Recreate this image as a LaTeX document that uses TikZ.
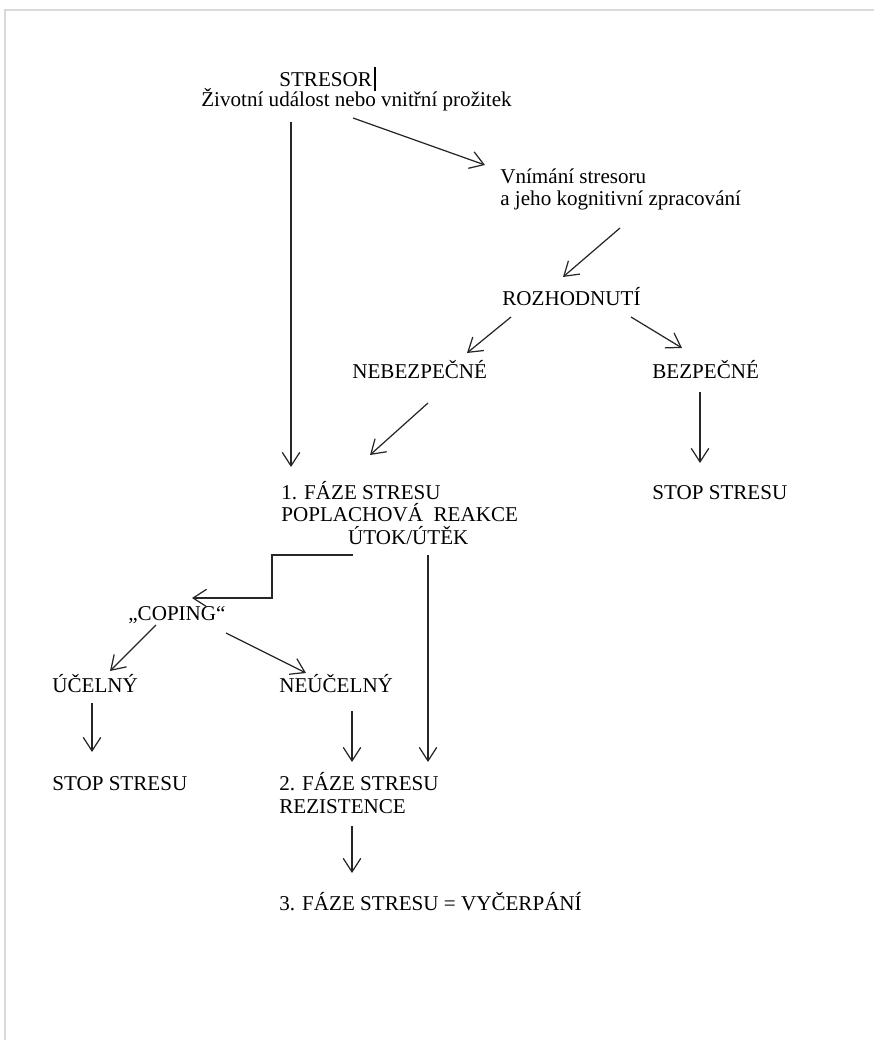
\documentclass[tikz,border=0pt]{standalone}
\usepackage{fontspec}
\setmainfont{Liberation Serif}
\usetikzlibrary{arrows.meta, calc}

\begin{document}
\begin{tikzpicture}[x=0.02cm, y=-0.02cm, >={Straight Barb[length=2.7mm, width=3.5mm]},
    font=\fontsize{12}{12.8}\selectfont,
    word/.style={anchor=base west, inner sep=0pt, align=left},
    link/.style={->, line width=0.7pt, black!85}]
        \useasboundingbox (0,0) rectangle (874,1040);
        \draw [black!15, line width=1.1pt] (874,10) -- (5,10) -- (5,1040);
        \begin{scope}
            \node [word] (stres) at (279,87) {STRESOR\kern1.2pt\rule[-2.2pt]{1.1pt}{13.6pt}};
            \node [word] (ziv) at (201,107) {Životní událost nebo vnitřní prožitek};
            \node [word] (vnim) at (500,206) {Vnímání stresoru\\a jeho kognitivní zpracování};
            \node [word] (roz) at (502,305) {ROZHODNUTÍ};
            \node [word] (neb) at (352,378) {NEBEZPEČNÉ};
            \node [word] (bez) at (652,378) {BEZPEČNÉ};
            \node [word] (stopa) at (652,499) {STOP STRESU};
            \node [word] (faze1) at (281,544) {1. FÁZE STRESU\\POPLACHOVÁ~~REAKCE\\\hspace*{38pt}ÚTOK/ÚTĚK};
            \node [word] (cop) at (128,620) {„COPING“};
            \node [word] (uc) at (52,692) {ÚČELNÝ};
            \node [word] (neuc) at (279,692) {NEÚČELNÝ};
            \node [word] (stopb) at (52,790) {STOP STRESU};
            \node [word] (faze2) at (279,813) {2. FÁZE STRESU\\REZISTENCE};
            \node [word] (faze3) at (279,910) {3. FÁZE STRESU = VYČERPÁNÍ};
            \draw [link] ($(ziv.base west)+(90,15)$) -- ($(faze1.base west)+(10,-77)$);
            \draw [link] ($(ziv.base west)+(152,11)$) -- ($(vnim.base west)+(-15,-41)$);
            \draw [link] ($(vnim.base west)+(120,22)$) -- ($(roz.base west)+(61,-28)$);
            \draw [link] ($(roz.base west)+(9,12)$) -- ($(neb.base west)+(115,-25)$);
            \draw [link] ($(roz.base west)+(129,12)$) -- ($(bez.base west)+(30,-30)$);
            \draw [link] ($(neb.base west)+(76,25)$) -- ($(faze1.base west)+(89,-89)$);
            \draw [link] ($(bez.base west)+(48,14)$) -- ($(stopa.base west)+(48,-36)$);
            \draw [link] ($(faze1.base west)+(72,11)$) -- ++(-81,0) |- ($(cop.base west)+(64,-22)$);
            \draw [link] ($(faze1.base west)+(147,11)$) -- ($(faze2.base west)+(149,-51)$);
            \draw [link] ($(cop.base west)+(28,5)$) -- ($(uc.base west)+(58,-21)$);
            \draw [link] ($(cop.base west)+(98,13)$) -- ($(neuc.base west)+(27,-19)$);
            \draw [link] ($(uc.base west)+(40,11)$) -- ($(stopb.base west)+(40,-38)$);
            \draw [link] ($(neuc.base west)+(73,19)$) -- ($(faze2.base west)+(73,-51)$);
            \draw [link] ($(faze2.base west)+(73,13)$) -- ($(faze3.base west)+(73,-37)$);
        \end{scope}
\end{tikzpicture}
\end{document}
